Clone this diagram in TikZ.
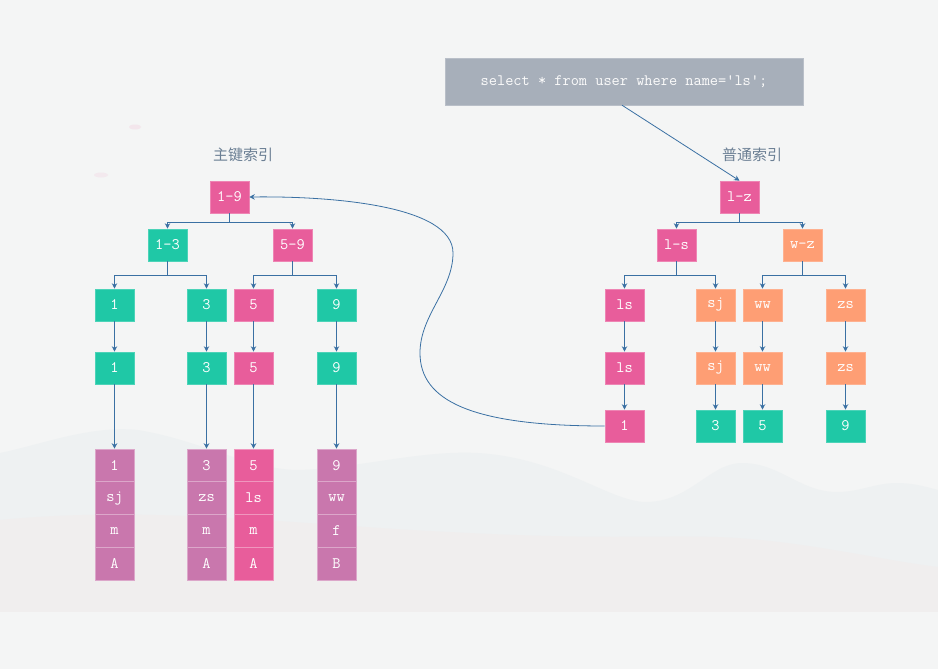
\documentclass[tikz,border=0pt]{standalone}
\usepackage{fontspec}
\usetikzlibrary{arrows.meta,positioning}
\newfontfamily\cjk{Noto Sans CJK SC}
\definecolor{bg}{HTML}{F4F5F5}
\definecolor{hillA}{HTML}{EEF1F2}
\definecolor{hillB}{HTML}{F0EEEE}
\definecolor{teal}{HTML}{1FC8A6}
\definecolor{pinkc}{HTML}{E85D9B}
\definecolor{mauve}{HTML}{C977AD}
\definecolor{orangec}{HTML}{FE9E74}
\definecolor{grayq}{HTML}{A7AFBA}
\definecolor{conn}{HTML}{3A70A3}
\definecolor{lbl}{HTML}{6B7F94}
\tikzset{
  box/.style={minimum width=39pt, minimum height=32pt, inner sep=0pt, font=\ttfamily\fontsize{16}{16}\selectfont, text=white, line width=0.6pt},
  tealbox/.style={box, fill=teal, draw=teal!80!white},
  pinkbox/.style={box, fill=pinkc, draw=pinkc!75!white},
  orbox/.style={box, fill=orangec, draw=orangec!80!white},
  cell/.style={box, minimum height=32.75pt, fill=mauve, draw=mauve!65!white},
  pcell/.style={box, minimum height=32.75pt, fill=pinkc, draw=pinkc!65!white},
  arr/.style={draw=conn, line width=0.8pt, -{Stealth[length=5.5pt,width=5.5pt]}},
  title/.style={font=\cjk\fontsize{15}{15}\selectfont, text=lbl},
}
\begin{document}
\begin{tikzpicture}[x=1pt,y=-1pt]
\useasboundingbox (0,0) rectangle (938,669);
\fill[bg] (0,0) rectangle (938,669);
% background hills
\fill[hillA] (0,453) .. controls (40,445) and (90,425) .. (138,430)
  .. controls (200,440) and (250,470) .. (299,470)
  .. controls (360,468) and (420,450) .. (478,453)
  .. controls (560,458) and (610,502) .. (646,502)
  .. controls (690,502) and (710,463) .. (742,463)
  .. controls (780,463) and (800,492) .. (837,492)
  .. controls (860,492) and (875,483) .. (897,483)
  .. controls (915,483) and (930,488) .. (938,490)
  -- (938,612) -- (0,612) -- cycle;
\fill[hillB] (0,520) .. controls (150,505) and (300,525) .. (450,532)
  .. controls (600,540) and (650,535) .. (718,537)
  .. controls (800,540) and (880,560) .. (938,567)
  -- (938,612) -- (0,612) -- cycle;
\fill[bg] (0,612) rectangle (938,669);
\fill[pinkc!10!bg] (135,127) ellipse (6pt and 2.5pt);
\fill[pinkc!8!bg] (101,175) ellipse (7pt and 2.5pt);

% titles
\node[title] (t1) at (243,155) {主键索引};
\node[title] (t2) at (752,155) {普通索引};

% query
\node[fill=grayq, draw=grayq!80!white, minimum width=358pt, minimum height=47pt, inner sep=0pt,
  font=\ttfamily\fontsize{15.9}{16}\selectfont, text=white!95!grayq] (q) at (624,81.5) {select * from user where name='ls';};

% left tree
\node[pinkbox] (a) at (229.5,197) {1-9};
\node[tealbox] (b1) at (167.5,245) {1-3};
\node[pinkbox] (b2) at (292.5,245) {5-9};
\node[tealbox] (c1) at (114.5,305) {1};
\node[tealbox] (c3) at (206.5,305) {3};
\node[pinkbox] (c5) at (253.5,305) {5};
\node[tealbox] (c9) at (336.5,305) {9};
\node[tealbox] (d1) at (114.5,368) {1};
\node[tealbox] (d3) at (206.5,368) {3};
\node[pinkbox] (d5) at (253.5,368) {5};
\node[tealbox] (d9) at (336.5,368) {9};
% data rows
\foreach \n/\x/\s/\va/\vb/\vc/\vd in {e1/114.5/cell/1/sj/m/A, e3/206.5/cell/3/zs/m/A, e5/253.5/pcell/5/ls/m/A, e9/336.5/cell/9/ww/f/B}{
  \node[\s] (\n a) at (\x,465.4) {\va};
  \node[\s] (\n b) at (\x,498.1) {\vb};
  \node[\s] (\n c) at (\x,530.9) {\vc};
  \node[\s] (\n d) at (\x,563.6) {\vd};
}

% right tree
\node[pinkbox] (r) at (739.5,197) {l-z};
\node[pinkbox] (s1) at (676.5,245) {l-s};
\node[orbox] (s2) at (802.5,245) {w-z};
\node[pinkbox] (u1) at (624.5,305) {ls};
\node[orbox] (u2) at (715.5,305) {sj};
\node[orbox] (u3) at (762.5,305) {ww};
\node[orbox] (u4) at (845.5,305) {zs};
\node[pinkbox] (v1) at (624.5,368) {ls};
\node[orbox] (v2) at (715.5,368) {sj};
\node[orbox] (v3) at (762.5,368) {ww};
\node[orbox] (v4) at (845.5,368) {zs};
\node[pinkbox] (w1) at (624.5,426) {1};
\node[tealbox] (w2) at (715.5,426) {3};
\node[tealbox] (w3) at (762.5,426) {5};
\node[tealbox] (w4) at (845.5,426) {9};

% left connectors
\draw[arr] (a.south) -- ++(0,9) -| (b1.north);
\draw[arr] (a.south) -- ++(0,9) -| (b2.north);
\draw[arr] (b1.south) -- ++(0,14) -| (c1.north);
\draw[arr] (b1.south) -- ++(0,14) -| (c3.north);
\draw[arr] (b2.south) -- ++(0,14) -| (c5.north);
\draw[arr] (b2.south) -- ++(0,14) -| (c9.north);
\foreach \i in {1,3,5,9}{
  \draw[arr] (c\i.south) -- (d\i.north);
  \draw[arr] (d\i.south) -- (e\i a.north);
}
% right connectors
\draw[arr] (r.south) -- ++(0,9) -| (s1.north);
\draw[arr] (r.south) -- ++(0,9) -| (s2.north);
\draw[arr] (s1.south) -- ++(0,14) -| (u1.north);
\draw[arr] (s1.south) -- ++(0,14) -| (u2.north);
\draw[arr] (s2.south) -- ++(0,14) -| (u3.north);
\draw[arr] (s2.south) -- ++(0,14) -| (u4.north);
\foreach \i in {1,2,3,4}{
  \draw[arr] (u\i.south) -- (v\i.north);
  \draw[arr] (v\i.south) -- (w\i.north);
}
% query arrow
\draw[arr] (q.south) ++(-2,0) coordinate (qs) (qs) -- (r.north);
% back to primary key
\draw[arr] (w1.west) .. controls (470,426) and (420,400) .. (420,353)
  .. controls (420,315) and (453,290) .. (453,253)
  .. controls (453,205) and (330,196) .. (a.east);
\end{tikzpicture}
\end{document}
